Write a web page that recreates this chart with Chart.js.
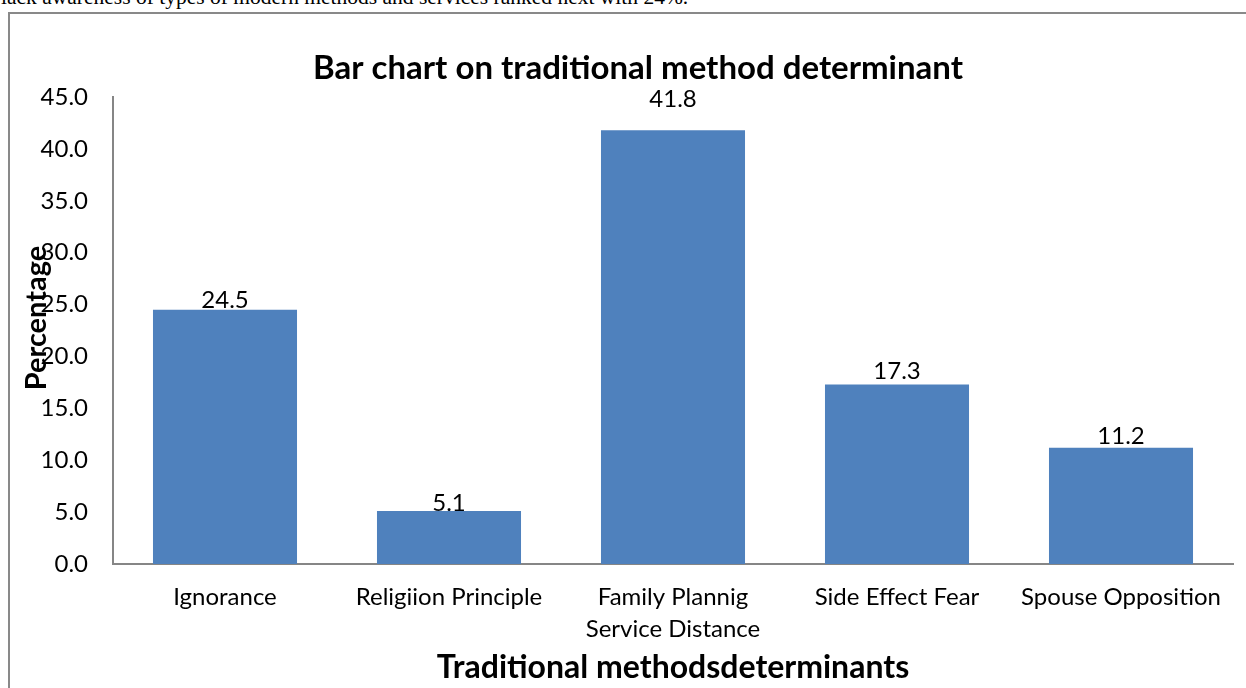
<!DOCTYPE html>
<html>
<head>
<meta charset="utf-8">
<title>Bar chart on traditional method determinant</title>
<script src="https://cdn.jsdelivr.net/npm/chart.js@4.4.1/dist/chart.umd.min.js"></script>
<style>
  html, body { margin: 0; padding: 0; background: #fff; overflow: hidden; }
  #lead {
    position: absolute; left: 1px; top: -13px;
    font: 21.5px "Liberation Serif", "Times New Roman", serif; line-height: 21.5px;
    white-space: nowrap; color: #000;
  }
  #frame {
    position: absolute; left: 8px; top: 12px; width: 1400px; height: 800px;
    border-left: 2px solid #898989; border-top: 2px solid #898989;
  }
  #wrap { position: absolute; left: 0; top: 0; width: 1246px; height: 688px; }
</style>
</head>
<body>
<div id="lead">lack awareness of types of modern methods and services ranked next with 24%.</div>
<div id="frame"></div>
<div id="wrap"><canvas id="c"></canvas></div>
<script>
// Determinants of traditional method use (percent of respondents)
const categories = [
  'Ignorance',
  'Religiion Principle',
  ['Family Plannig', 'Service Distance'],
  'Side Effect Fear',
  'Spouse Opposition'
];
const percentages = [24.5, 5.1, 41.8, 17.3, 11.2];

// Value axis range and step
const yMin = 0;
const yMax = 45;
const yStep = 5;

const chartTitle = 'Bar chart on traditional method determinant';
const xTitle = 'Traditional methodsdeterminants';
const yTitle = 'Percentage';

// Small vertical nudges (px) for the value labels above each bar
const labelLift = [2, 0, 23, 5, 4];

const FONT = 'Lato, "Open Sans", sans-serif';
const AXIS_GREY = '#868686';
const BAR_BLUE = '#4F81BD';

const annotations = {
  id: 'annotations',
  afterDatasetsDraw(chart) {
    const ctx = chart.ctx;
    const meta = chart.getDatasetMeta(0);
    ctx.save();
    ctx.fillStyle = '#000';
    ctx.font = '24px ' + FONT;
    ctx.textAlign = 'center';
    ctx.textBaseline = 'alphabetic';
    meta.data.forEach((bar, i) => {
      const v = chart.data.datasets[0].data[i];
      ctx.fillText(v.toFixed(1), bar.x, bar.y - labelLift[i]);
    });
    ctx.restore();
  },
  afterDraw(chart) {
    const ctx = chart.ctx;
    const area = chart.chartArea;
    ctx.save();
    ctx.fillStyle = '#000';
    ctx.textAlign = 'center';
    ctx.textBaseline = 'alphabetic';

    ctx.font = 'bold 33px ' + FONT;
    ctx.fillText(chartTitle, 638, 79);

    ctx.font = 'bold 32px ' + FONT;
    ctx.fillText(xTitle, (area.left + area.right) / 2, 678);

    ctx.translate(46, 318);
    ctx.rotate(-Math.PI / 2);
    ctx.font = 'bold 29px ' + FONT;
    ctx.fillText(yTitle, 0, 0);
    ctx.restore();
  }
};

new Chart(document.getElementById('c'), {
  type: 'bar',
  data: {
    labels: categories,
    datasets: [{
      data: percentages,
      backgroundColor: BAR_BLUE,
      borderWidth: 0,
      categoryPercentage: 1,
      barPercentage: 0.643
    }]
  },
  options: {
    responsive: true,
    maintainAspectRatio: false,
    animation: false,
    devicePixelRatio: 1,
    layout: { padding: { left: 0, right: 13, top: 97, bottom: 0 } },
    plugins: {
      legend: { display: false },
      title: { display: false },
      tooltip: { enabled: false }
    },
    scales: {
      x: {
        grid: { display: false, drawTicks: false },
        border: { display: true, color: AXIS_GREY, width: 2 },
        ticks: {
          color: '#000',
          font: { family: FONT, size: 24, lineHeight: 1.3 },
          padding: 18,
          maxRotation: 0,
          minRotation: 0,
          autoSkip: false
        },
        afterFit(scale) { scale.height = 124; }
      },
      y: {
        min: yMin,
        max: yMax,
        grid: { display: false, drawTicks: false },
        border: { display: true, color: AXIS_GREY, width: 2 },
        ticks: {
          stepSize: yStep,
          color: '#000',
          font: { family: FONT, size: 24 },
          padding: 25,
          callback: (v) => Number(v).toFixed(1)
        },
        afterFit(scale) { scale.width = 113; }
      }
    }
  },
  plugins: [annotations]
});
</script>
</body>
</html>
